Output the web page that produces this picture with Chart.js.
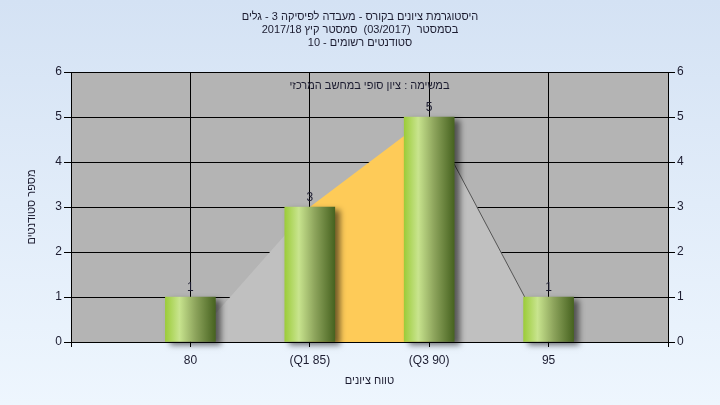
<!DOCTYPE html>
<html>
<head>
<meta charset="utf-8">
<script src="https://cdn.jsdelivr.net/npm/chart.js@4/dist/chart.umd.min.js"></script>
<style>
  html, body { margin: 0; padding: 0; }
  #wrap { width: 720px; height: 405px; }
</style>
</head>
<body>
<div id="wrap"><canvas id="chart" dir="rtl" width="720" height="405"></canvas></div>
<script>
const categories = ['', '80', '(Q1 85)', '(Q3 90)', '95', ''];
const studentCounts = [null, 1, 3, 5, 1, null];
const curveValues = [null, 0, 3, 5, 0, null];
const titleLines = [
  'היסטוגרמת ציונים בקורס - מעבדה לפיסיקה 3 - גלים',
  'בסמסטר  (03/2017)  סמסטר קיץ 2017/18',
  'סטודנטים רשומים - 10'
];
const noteText = 'במשימה : ציון סופי במחשב המרכזי';
const xTitle = 'טווח ציונים';
const yTitle = 'מספר סטודנטים';

const FONT = '"Liberation Sans", "DejaVu Sans", sans-serif';
const TEXT = '#1c1c30';

// page gradient + grey plot area
const backdrop = {
  id: 'backdrop',
  beforeDraw(chart) {
    const { ctx, chartArea: a, width, height } = chart;
    ctx.save();
    const g = ctx.createLinearGradient(0, 0, 0, height);
    g.addColorStop(0, '#d4e2f4');
    g.addColorStop(1, '#eef6fe');
    ctx.fillStyle = g;
    ctx.fillRect(0, 0, width, height);
    ctx.fillStyle = '#b4b4b4';
    ctx.fillRect(a.left, a.top, a.right - a.left, a.bottom - a.top);
    ctx.restore();
  }
};

// drop shadow under the bars only
const barShadow = {
  id: 'barShadow',
  beforeDatasetDraw(chart, args) {
    if (args.meta.type !== 'bar') return;
    const ctx = chart.ctx;
    ctx.save();
    ctx.shadowColor = 'rgba(0,0,0,0.55)';
    ctx.shadowBlur = 6;
    ctx.shadowOffsetX = 5;
    ctx.shadowOffsetY = 3;
  },
  afterDatasetDraw(chart, args) {
    if (args.meta.type !== 'bar') return;
    chart.ctx.restore();
  }
};

// value labels + note in the plot
const labels = {
  id: 'labels',
  afterDatasetsDraw(chart) {
    const { ctx, chartArea: a } = chart;
    ctx.save();
    ctx.font = '12px ' + FONT;
    ctx.fillStyle = TEXT;
    ctx.textAlign = 'center';
    ctx.textBaseline = 'alphabetic';
    const meta = chart.getDatasetMeta(0);
    meta.data.forEach((el, i) => {
      const v = studentCounts[i];
      if (v == null) return;
      ctx.fillText(String(v), el.x, el.y - 6);
    });
    ctx.font = '11px ' + FONT;
    ctx.textBaseline = 'middle';
    ctx.fillText(noteText, (a.left + a.right) / 2, a.top + 14);
    ctx.restore();
  }
};

function barGradient(c) {
  const chart = c.chart;
  const xs = chart.scales.x;
  const cx = xs && c.dataIndex != null ? xs.getPixelForValue(c.dataIndex) : NaN;
  if (!Number.isFinite(cx)) return '#9fcd45';
  const g = chart.ctx.createLinearGradient(cx - 25, 0, cx + 25, 0);
  g.addColorStop(0, '#9ccc3a');
  g.addColorStop(0.28, '#c8e48e');
  g.addColorStop(0.6, '#8da45c');
  g.addColorStop(1, '#476320');
  return g;
}

const tickFont = { family: FONT, size: 12 };
const hebFont = { family: FONT, size: 11 };

new Chart(document.getElementById('chart'), {
  data: {
    labels: categories,
    datasets: [
      {
        type: 'bar',
        data: studentCounts,
        backgroundColor: barGradient,
        borderWidth: 0,
        barThickness: 50,
        clip: false,
        order: 0
      },
      {
        type: 'line',
        data: curveValues,
        fill: 'origin',
        tension: 0,
        pointRadius: 0,
        borderWidth: 1,
        backgroundColor: '#c0c0c0',
        borderColor: 'transparent',
        segment: {
          backgroundColor: s => s.p0DataIndex === 2 ? '#fecb58' : '#c0c0c0',
          borderColor: s => s.p0DataIndex === 3 ? '#555555' : 'transparent'
        },
        order: 1
      }
    ]
  },
  options: {
    responsive: false,
    animation: false,
    layout: { padding: 0 },
    plugins: {
      legend: { display: false },
      tooltip: { enabled: false },
      title: {
        display: true,
        text: titleLines,
        color: TEXT,
        font: { family: FONT, size: 11, weight: 'normal', lineHeight: '13px' },
        padding: { top: 10.5, bottom: 22.5 }
      }
    },
    scales: {
      x: {
        offset: false,
        grid: { offset: false, color: '#000', tickLength: 5, tickColor: '#000' },
        border: { color: '#000' },
        ticks: { color: TEXT, font: tickFont, padding: 6, maxRotation: 0, autoSkip: false },
        title: { display: true, text: xTitle, color: TEXT, font: hebFont, padding: { top: 0, bottom: 17 } },
        afterFit(s) { s.height = 63; }
      },
      y: {
        position: 'left',
        min: 0, max: 6,
        grid: { color: '#000', tickLength: 7, tickColor: '#000' },
        border: { color: '#000' },
        ticks: { stepSize: 1, color: TEXT, font: tickFont, padding: 2 },
        title: { display: true, text: yTitle, color: TEXT, font: hebFont, padding: { top: 25, bottom: 0 } },
        afterFit(s) { s.width = 71; }
      },
      y2: {
        position: 'right',
        min: 0, max: 6,
        grid: { drawOnChartArea: false, tickLength: 7, tickColor: '#000' },
        border: { color: '#000' },
        ticks: { stepSize: 1, color: TEXT, font: tickFont, padding: 2 },
        afterFit(s) { s.width = 52; }
      }
    }
  },
  plugins: [backdrop, barShadow, labels]
});
</script>
</body>
</html>
